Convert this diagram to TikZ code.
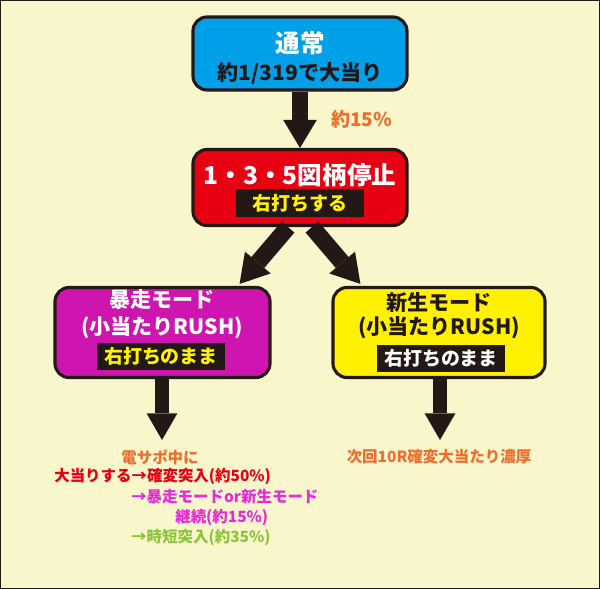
\documentclass[tikz,border=0pt]{standalone}
\usepackage{fontspec}
\setmainfont{Noto Sans CJK JP}
\usetikzlibrary{arrows.meta,calc}

\definecolor{bgcream}{HTML}{FAF6CC}
\definecolor{inkblack}{HTML}{231815}
\definecolor{normalblue}{HTML}{00A0E9}
\definecolor{stopred}{HTML}{E60012}
\definecolor{rushmagenta}{HTML}{CF15B0}
\definecolor{shinyellow}{HTML}{FFF100}
\definecolor{noteorange}{HTML}{EE6F2D}
\definecolor{notepink}{HTML}{E62AD8}
\definecolor{notegreen}{HTML}{8CC43C}

\tikzset{
  modebox/.style={draw=inkblack, line width=2.2pt, rounded corners=10pt, inner sep=0pt},
  tagbox/.style={fill=inkblack, inner sep=0pt, minimum width=3.2cm, minimum height=0.68cm},
  bigarrow/.style={draw=inkblack, line width=12pt, -{Triangle[length=20pt,width=24pt,line width=0pt]}},
  downarrow/.style={draw=inkblack, line width=9.5pt, -{Triangle[length=19pt,width=22pt,line width=0pt]}},
  headtext/.style={inner sep=0pt, font=\bfseries\fontsize{17.5pt}{20pt}\selectfont},
  subtext/.style={inner sep=0pt, font=\bfseries\fontsize{15pt}{18pt}\selectfont},
  tagtext/.style={font=\bfseries\fontsize{13.5pt}{16pt}\selectfont},
  notetext/.style={inner sep=0pt, font=\bfseries\fontsize{11pt}{14pt}\selectfont},
}

\begin{document}
\begin{tikzpicture}[x=0.025cm, y=-0.025cm]
        % background and frame
        \useasboundingbox (0,0) rectangle (600,589);
        \fill[bgcream] (0,0) rectangle (600,589);
        \draw[inkblack, line width=0.8pt] (0.5,0.5) rectangle (599.5,588.5);

        % mode boxes
        \node[modebox, fill=normalblue, minimum width=5.35cm, minimum height=1.825cm] (normal) at (300,53.5) {};
        \node[modebox, fill=stopred, minimum width=5.35cm, minimum height=1.9cm] (stop) at (300,187.5) {};
        \node[modebox, fill=rushmagenta, minimum width=5.375cm, minimum height=2.25cm] (bousou) at (162.5,332.5) {};
        \node[modebox, fill=shinyellow, minimum width=5.3cm, minimum height=2.25cm] (shinsei) at (439,332.5) {};

        % box texts
        \node[headtext, white] (normaltitle) at (300,43) {通常};
        \node[subtext, inkblack] (normalodds) at (300,73) {約1/319で大当り};
        \node[headtext, white] (stoptitle) at (300,175) {1・3・5図柄停止};
        \node[tagbox] (stoptag) at (300,203) {};
        \node[tagtext, shinyellow] (stoptagtext) at (stoptag) {右打ちする};
        \node[subtext, white] (bousoutitle) at (162,300) {暴走モード};
        \node[subtext, white] (bousousub) at (162,328) {(小当たりRUSH)};
        \node[tagbox] (bousoutag) at (161,356.5) {};
        \node[tagtext, shinyellow] (bousoutagtext) at (bousoutag) {右打ちのまま};
        \node[subtext, inkblack] (shinseititle) at (439,302) {新生モード};
        \node[subtext, inkblack] (shinseisub) at (439,328) {(小当たりRUSH)};
        \node[tagbox] (shinseitag) at (441,358.5) {};
        \node[tagtext, white] (shinseitagtext) at (shinseitag) {右打ちのまま};

        % arrows
        \draw[bigarrow] (normal.south) -- (stop.north);
        \node[notetext, noteorange, anchor=west, font=\bfseries\fontsize{13.5pt}{15pt}\selectfont] (rate) at (331,119) {約15\%};
        \draw[bigarrow] ($(stop.south)+(-12,0)$) -- ($(bousou.north east)+(-32,-2)$);
        \draw[bigarrow] ($(stop.south)+(12,0)$) -- ($(shinsei.north west)+(29,-2)$);
        \coordinate (bousouend) at (162,440);
        \coordinate (shinseiend) at (440,440);
        \draw[downarrow] (bousou.south -| bousouend) -- (bousouend);
        \draw[downarrow] (shinsei.south -| shinseiend) -- (shinseiend);

        % notes
        \node[notetext, noteorange] (densapo) at (160,457) {電サポ中に};
        \node[notetext, stopred, anchor=west] (kakuhen) at (54,476) {大当りする→確変突入(約50\%)};
        \node[notetext, notepink, anchor=west] (keizoku) at (131,497) {→暴走モードor新生モード};
        \node[notetext, notepink, anchor=west] (keizokurate) at (175,517) {継続(約15\%)};
        \node[notetext, notegreen, anchor=west] (jitan) at (131,537) {→時短突入(約35\%)};
        \node[notetext, noteorange] (nextround) at (439,457) {次回10R確変大当たり濃厚};
    \end{tikzpicture}
\end{document}
